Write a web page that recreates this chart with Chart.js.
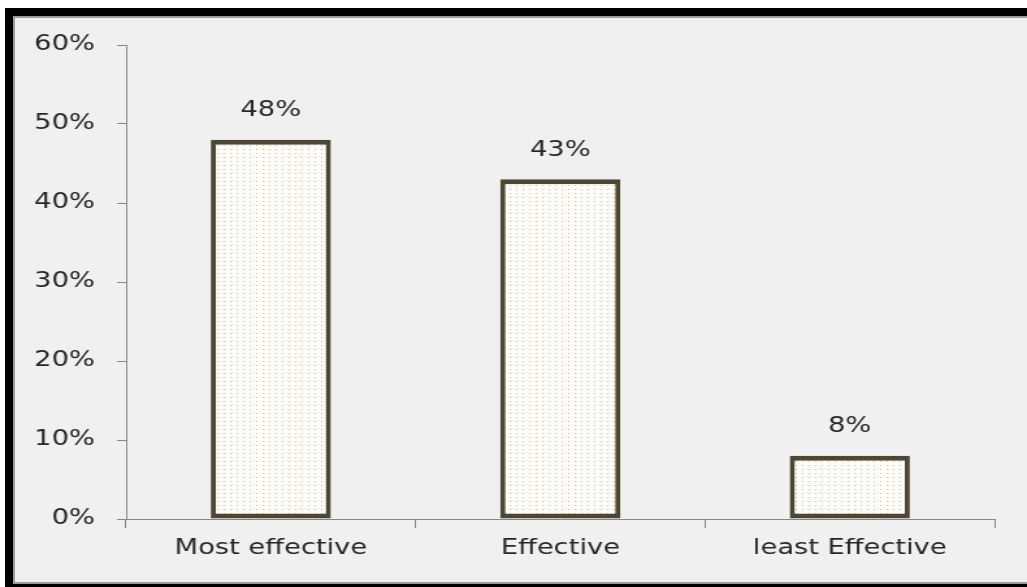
<!DOCTYPE html>
<html>
<head>
<meta charset="utf-8">
<script src="https://cdn.jsdelivr.net/npm/chart.js@4/dist/chart.umd.min.js"></script>
<style>
  html, body { margin: 0; padding: 0; background: #fff; width: 1027px; height: 587px; overflow: hidden; }
  .frame {
    position: absolute; left: 5px; top: 8px; width: 1040px; height: 568px;
    border-left: 8px solid #000; border-top: 8px solid #000; border-bottom: 3px solid #000;
    background: #f0f0f0;
    box-shadow: inset 2px 2px 0 #9a9a9a, inset 0 -2px 0 #9a9a9a;
  }
  /* chart is laid out narrow and widened, so the glyphs come out broad */
  #chart { position: absolute; left: 0; top: 0; transform: scaleX(1.3); transform-origin: 0 0; }
</style>
</head>
<body>
<div class="frame"></div>
<canvas id="chart" width="790" height="587"></canvas>
<script>
const categories = ["Most effective", "Effective", "least Effective"];
const shares = [48, 43, 8];
const yTicks = [0, 10, 20, 30, 40, 50, 60];

const textColor = "#262626";
const axisColor = "#878787";
const font = { family: "DejaVu Sans", size: 21 };

// white fill with a sparse grid of light orange dots
function dotPattern() {
  const tile = document.createElement("canvas");
  tile.width = 5;
  tile.height = 4;
  const t = tile.getContext("2d");
  t.fillStyle = "#ffffff";
  t.fillRect(0, 0, 5, 4);
  t.fillStyle = "rgb(250, 168, 96)";
  t.fillRect(2, 1, 1, 1);
  return t.createPattern(tile, "repeat");
}

const ctx = document.getElementById("chart").getContext("2d");

const valueLabels = {
  id: "valueLabels",
  afterDatasetsDraw(chart) {
    const c = chart.ctx;
    const meta = chart.getDatasetMeta(0);
    c.save();
    c.font = `${font.size}px ${font.family}`;
    c.fillStyle = textColor;
    c.textAlign = "center";
    c.textBaseline = "middle";
    meta.data.forEach((bar, i) => {
      c.fillText(shares[i] + "%", bar.x, bar.y - 29);
    });
    c.restore();
  },
};

new Chart(ctx, {
  type: "bar",
  data: {
    labels: categories,
    datasets: [
      {
        data: shares,
        backgroundColor: dotPattern(),
        borderColor: "#4d4632",
        borderWidth: { top: 5, bottom: 5, left: 4, right: 4 },
        borderSkipped: false,
        barPercentage: 0.415,
        categoryPercentage: 1,
      },
    ],
  },
  options: {
    responsive: false,
    animation: false,
    devicePixelRatio: 1,
    layout: { padding: { left: 0, right: 25, top: 45, bottom: 0 } },
    plugins: {
      legend: { display: false },
      tooltip: { enabled: false },
    },
    scales: {
      x: {
        afterFit(scale) { scale.height = 68; },
        grid: { display: true, drawOnChartArea: false, drawTicks: true, tickLength: 9, color: axisColor, offset: true },
        border: { display: true, color: axisColor, width: 1 },
        ticks: { color: textColor, font: font, padding: 8 },
      },
      y: {
        min: 0,
        max: 60,
        afterFit(scale) { scale.width = 97; },
        afterBuildTicks(scale) { scale.ticks = yTicks.map(v => ({ value: v })); },
        grid: { display: true, drawOnChartArea: false, drawTicks: true, tickLength: 7, color: axisColor },
        border: { display: true, color: axisColor, width: 1 },
        ticks: { color: textColor, font: font, padding: 17, callback: v => v + "%" },
      },
    },
  },
  plugins: [valueLabels],
});
</script>
</body>
</html>
